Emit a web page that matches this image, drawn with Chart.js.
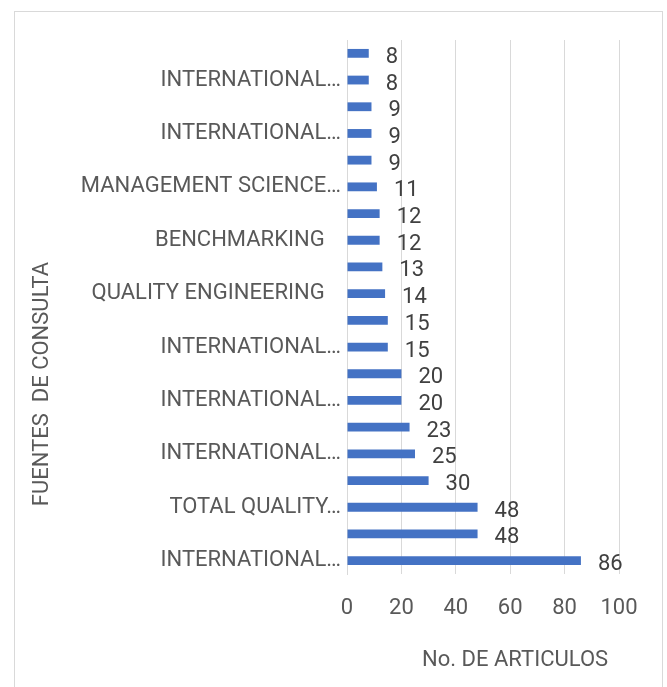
<!DOCTYPE html>
<html>
<head>
<meta charset="utf-8">
<script src="https://cdn.jsdelivr.net/npm/chart.js@4.4.1/dist/chart.umd.min.js"></script>
<style>
    html, body { margin: 0; padding: 0; background: #fff; overflow: hidden; }
    #wrap { position: relative; width: 667px; height: 687px; }
    #marco { position: absolute; left: 14px; top: 11px; width: 649px; height: 700px; border: 1px solid #d9d9d9; box-sizing: border-box; }
    #chart { position: absolute; left: 0; top: 0; }
</style>
</head>
<body>
<div id="wrap">
    <div id="marco"></div>
    <canvas id="chart" width="667" height="687"></canvas>
</div>
<script>
// Datos (de arriba hacia abajo)
const fuentes = [
    '', 'INTERNATIONAL…', '', 'INTERNATIONAL…', '', 'MANAGEMENT SCIENCE…',
    '', 'BENCHMARKING   ', '', 'QUALITY ENGINEERING   ', '', 'INTERNATIONAL…',
    '', 'INTERNATIONAL…', '', 'INTERNATIONAL…', '', 'TOTAL QUALITY…',
    '', 'INTERNATIONAL…'
];
const articulos = [8, 8, 9, 9, 9, 11, 12, 12, 13, 14, 15, 15, 20, 20, 23, 25, 30, 48, 48, 86];
const ticksX = [0, 20, 40, 60, 80, 100];
const tituloX = 'No. DE ARTICULOS  ';
const tituloY = 'FUENTES  DE CONSULTA';

const fuente = "'Liberation Sans Narrow', 'Arial Narrow', Roboto, sans-serif";

// Etiquetas de valores y titulo del eje Y
const etiquetas = {
    id: 'etiquetas',
    afterDatasetsDraw(chart) {
        const ctx = chart.ctx;
        const meta = chart.getDatasetMeta(0);
        ctx.save();
        ctx.font = '22px ' + fuente;
        ctx.fillStyle = '#404040';
        ctx.textAlign = 'left';
        ctx.textBaseline = 'middle';
        meta.data.forEach((bar, i) => {
            ctx.fillText(String(articulos[i]), bar.x + 17, bar.y + 4);
        });
        ctx.restore();

        ctx.save();
        ctx.font = '22px ' + fuente;
        ctx.fillStyle = '#595959';
        ctx.textAlign = 'center';
        ctx.textBaseline = 'middle';
        ctx.translate(42, 384);
        ctx.rotate(-Math.PI / 2);
        ctx.fillText(tituloY, 0, 0);
        ctx.restore();
    }
};

const ctx = document.getElementById('chart').getContext('2d');
new Chart(ctx, {
    type: 'bar',
    data: {
        labels: fuentes,
        datasets: [{
            data: articulos,
            backgroundColor: '#4472c4',
            borderWidth: 0,
            barPercentage: 0.33,
            categoryPercentage: 1
        }]
    },
    options: {
        indexAxis: 'y',
        responsive: false,
        animation: false,
        layout: { padding: { left: 0, right: 48, top: 40, bottom: 0 } },
        plugins: {
            legend: { display: false },
            tooltip: { enabled: false }
        },
        scales: {
            x: {
                min: 0,
                max: 100,
                afterFit: scale => { scale.height = 113; },
                afterBuildTicks: scale => { scale.ticks = ticksX.map(v => ({ value: v })); },
                grid: { color: '#d9d9d9', drawTicks: false },
                border: { display: false },
                ticks: {
                    padding: 21,
                    color: '#595959',
                    font: { family: fuente, size: 22 }
                },
                title: {
                    display: true,
                    text: tituloX,
                    align: 'end',
                    color: '#595959',
                    font: { family: fuente, size: 22 },
                    padding: { top: 0, bottom: 13 }
                }
            },
            y: {
                afterFit: scale => { scale.width = 347; },
                grid: { display: false, drawTicks: false },
                border: { display: true, color: '#d9d9d9' },
                ticks: {
                    autoSkip: false,
                    padding: 6,
                    color: '#595959',
                    font: { family: fuente, size: 22 }
                }
            }
        }
    },
    plugins: [etiquetas]
});
</script>
</body>
</html>
